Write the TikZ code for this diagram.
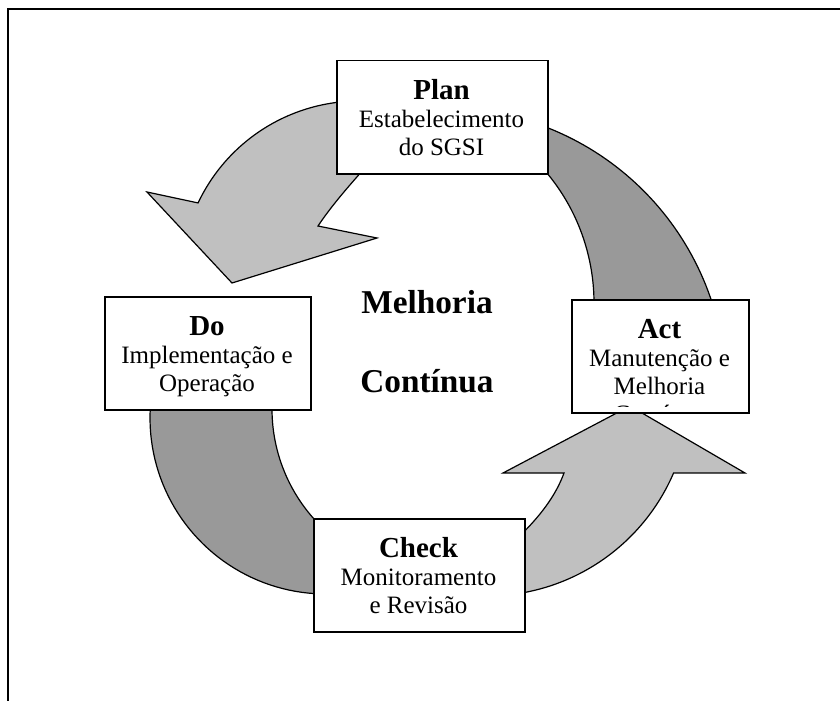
\documentclass[tikz,border=0pt]{standalone}
\usepackage{fontspec}
\setmainfont{Liberation Serif}
\definecolor{bandgray}{HTML}{999999}
\definecolor{arrowgray}{HTML}{C0C0C0}
\begin{document}
\begin{tikzpicture}[x=1pt,y=-1pt,
  darkband/.style={fill=bandgray, draw=black, line width=1.2pt, line join=round},
  lightarrow/.style={fill=arrowgray, draw=black, line width=1.2pt, line join=miter},
  stagebox/.style={draw=black, fill=white, line width=1.5pt, inner sep=0pt,
    anchor=north west, minimum height=113pt},
  headtext/.style={anchor=base, inner sep=0pt, font=\fontsize{29}{30}\selectfont\bfseries},
  bodytext/.style={anchor=base, inner sep=0pt, font=\fontsize{25}{28}\selectfont},
  centertext/.style={anchor=base, inner sep=0pt, font=\fontsize{33.3}{36}\selectfont\bfseries}]
\useasboundingbox (0,0) rectangle (840,701);

% outer frame (top and left rules)
\draw[line width=2pt] (840,9) -- (8,9) -- (8,701);

% dark band: Plan -> Act
\draw[darkband]
  plot[domain=-75:-10, samples=50, variable=\t] ({444+282*cos(\t)},{390+282*sin(\t)})
  -- plot[domain=5:-45, samples=50, variable=\t] ({391+203*cos(\t)},{303+203*sin(\t)})
  -- cycle;

% dark band: Do -> Check
\draw[darkband]
  plot[domain=190:85, samples=50, variable=\t] ({326+176*cos(\t)},{418+176*sin(\t)})
  -- plot[domain=130:190, samples=50, variable=\t] ({437+165*cos(\t)},{409+165*sin(\t)})
  -- cycle;

% light curved arrow: Plan -> Do
\draw[lightarrow]
  plot[domain=-85:-154.7, samples=50, variable=\t] ({359+178*cos(\t)},{279+178*sin(\t)})
  -- (147,192) -- (232,283) -- (377,238) -- (318,226)
  .. controls (330,208) and (345,190) .. (372,160) -- cycle;

% light curved arrow: Check -> Act
\draw[lightarrow]
  plot[domain=88:23.2, samples=50, variable=\t] ({487+203*cos(\t)},{393+203*sin(\t)})
  -- (745,473) -- (630,406) -- (503,473) -- (564,473)
  .. controls (556,495) and (540,518) .. (510,545) -- cycle;

% stage boxes
\node[stagebox, minimum width=211pt] (plan) at (336,60) {};
\node[stagebox, minimum width=206pt] (do) at (104,296) {};
\node[stagebox, minimum width=177pt] (act) at (571,299) {};
\node[stagebox, minimum width=211pt] (check) at (313,518) {};

% Plan
\node[headtext] (plan-h) at (441.5,99) {Plan};
\node[bodytext] (plan-1) at (441.5,127) {Estabelecimento};
\node[bodytext] (plan-2) at (441.5,155) {do SGSI};

% Do
\node[headtext] (do-h) at (207,335) {Do};
\node[bodytext] (do-1) at (207,363) {Implementação e};
\node[bodytext] (do-2) at (207,391) {Operação};

% Act (last line cut off by the box)
\node[headtext] (act-h) at (659.5,338) {Act};
\node[bodytext] (act-1) at (659.5,366) {Manutenção e};
\node[bodytext] (act-2) at (659.5,394) {Melhoria};
\begin{scope}
  \clip (572,300) rectangle (747,406);
  \node[bodytext] (act-3) at (659.5,422) {Contínua};
\end{scope}

% Check
\node[headtext] (check-h) at (418.5,557) {Check};
\node[bodytext] (check-1) at (418.5,585) {Monitoramento};
\node[bodytext] (check-2) at (418.5,613) {e Revisão};

% centre caption
\node[centertext] (mid-1) at (427,313) {Melhoria};
\node[centertext] (mid-2) at (427,392) {Contínua};
\end{tikzpicture}
\end{document}
